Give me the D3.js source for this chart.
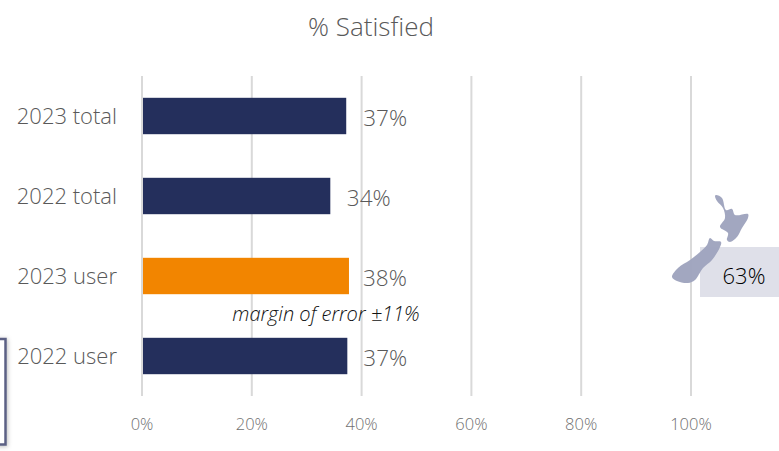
<!DOCTYPE html>
<html><head><meta charset="utf-8">
<script src="https://cdn.jsdelivr.net/npm/d3@7"></script>
<style>
html,body{margin:0;padding:0;background:#fff;overflow:hidden}
text{font-family:"Open Sans","Noto Sans",sans-serif;font-weight:300}
</style></head><body>
<svg id="c" width="779" height="451"></svg>
<script>
const categories = ["2023 total","2022 total","2023 user","2022 user"];
const values = [37.2,34.3,37.7,37.4];
const valueLabels = ["37%","34%","38%","37%"];
const labelOffsets = [17,16.5,14,16];
const barColors = ["#242f5c","#242f5c","#f28500","#242f5c"];
const tickValues = [0,20,40,60,80,100];
const title = "% Satisfied";
const note = "margin of error ±11%";
const calloutText = "63%";
// decorative New Zealand outline (icon, in pixels of the icon's own box)
const northIsland = [[76,15],[82,18],[86,30],[92,29],[95,35],[108,34],[108,38],[102,48],[97,57],[90,62],[87,60],[88,53],[80,47],[85,38],[83,28],[77,21],[75,16]];
const southIsland = [[70,58],[74,61],[81,62],[80,67],[72,80],[63,88],[55,100],[48,103],[37,101],[32,97],[38,88],[50,80],[60,72],[67,65]];

const svg = d3.select("#c");
const x = d3.scaleLinear().domain([0,100]).range([142,691]);
const y = d3.scaleBand().domain(categories).range([76,396]).paddingInner(0.545).paddingOuter(0.2725);

svg.append("g").selectAll("line").data(tickValues).join("line")
  .attr("x1",d=>x(d)).attr("x2",d=>x(d)).attr("y1",76).attr("y2",396)
  .attr("stroke","#d9d9d9").attr("stroke-width",2);

svg.append("g").selectAll("rect").data(categories).join("rect")
  .attr("x",x(0)+1).attr("y",d=>y(d))
  .attr("width",(d,i)=>x(values[i])-x(0)-1).attr("height",y.bandwidth())
  .attr("fill",(d,i)=>barColors[i]);

svg.append("g").selectAll("text").data(categories).join("text")
  .attr("x",117).attr("y",d=>y(d)+y.bandwidth()/2+7.5)
  .attr("text-anchor","end").attr("font-size",22).attr("fill","#595959").text(d=>d);

svg.append("g").selectAll("text").data(valueLabels).join("text")
  .attr("x",(d,i)=>x(values[i])+labelOffsets[i]).attr("y",(d,i)=>y(categories[i])+y.bandwidth()/2+9.5)
  .attr("font-size",22.5).attr("fill","#595959").text(d=>d);

svg.append("g").selectAll("text").data(tickValues).join("text")
  .attr("x",d=>x(d)).attr("y",430).attr("text-anchor","middle")
  .attr("font-size",16.5).attr("fill","#707070").text(d=>d+"%");

svg.append("text").attr("x",371).attr("y",36).attr("text-anchor","middle")
  .attr("font-size",26).attr("fill","#595959").text(title);

svg.append("text").attr("x",326).attr("y",321).attr("text-anchor","middle")
  .attr("font-size",20).attr("font-style","italic").attr("fill","#111").text(note);

// callout box, map icon and value
svg.append("rect").attr("x",700).attr("y",247).attr("width",79).attr("height",50).attr("fill","#dfe0e9");
const icon = svg.append("g").attr("transform","translate(640,180)").attr("fill","#9ea3bd").attr("fill-opacity",0.96);
const line = d3.line().curve(d3.curveCatmullRomClosed.alpha(0.5));
icon.append("path").attr("d",line(northIsland));
icon.append("path").attr("d",line(southIsland));
svg.append("text").attr("x",744).attr("y",284).attr("text-anchor","middle")
  .attr("font-size",22).attr("font-weight",400).attr("fill","#000").text(calloutText);

// cropped frame at lower left
svg.append("defs").append("filter").attr("id","sh").attr("x","-30%").attr("y","-30%").attr("width","160%").attr("height","160%")
  .append("feDropShadow").attr("dx",1).attr("dy",1).attr("stdDeviation",2).attr("flood-color","#000").attr("flood-opacity",0.25);
svg.append("rect").attr("x",-20).attr("y",339).attr("width",25.5).attr("height",105.5)
  .attr("fill","#fff").attr("stroke","#5b6184").attr("stroke-width",2.5).attr("filter","url(#sh)");
</script>
</body></html>
